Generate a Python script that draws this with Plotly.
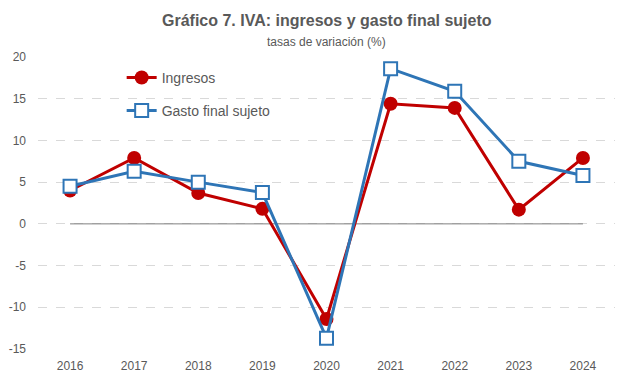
import plotly.graph_objects as go

years = ["2016", "2017", "2018", "2019", "2020", "2021", "2022", "2023", "2024"]
ingresos = [4.0, 7.9, 3.7, 1.8, -11.4, 14.4, 13.9, 1.7, 7.9]
gasto = [4.5, 6.3, 5.0, 3.75, -13.7, 18.6, 15.9, 7.5, 5.8]
y_ticks = [-15, -10, -5, 0, 5, 10, 15, 20]
y_tick_labels = ["-15", "-10", "-5", "0", "5", "10", "15", "20"]

FONT = "Liberation Sans, Arial, sans-serif"
GRAY = "#595959"
RED = "#C00000"
BLUE = "#2E75B6"

fig = go.Figure()
# zero reference line between first and last category (drawn beneath the series)
fig.add_trace(go.Scatter(x=[years[0], years[-1]], y=[0, 0], mode="lines",
                         line=dict(color="#808080", width=1), showlegend=False,
                         hoverinfo="skip"))
fig.add_trace(go.Scatter(x=years, y=ingresos, name="Ingresos", mode="lines+markers",
                         line=dict(color=RED, width=3),
                         marker=dict(symbol="circle", size=14, color=RED),
                         legend="legend"))
fig.add_trace(go.Scatter(x=years, y=gasto, name="Gasto final sujeto", mode="lines+markers",
                         line=dict(color=BLUE, width=3),
                         marker=dict(symbol="square", size=13, color="white",
                                     line=dict(color=BLUE, width=2)),
                         legend="legend2"))

fig.update_layout(
    width=631, height=373,
    margin=dict(l=30, r=24, t=49, b=32, autoexpand=False),
    paper_bgcolor="white", plot_bgcolor="white",
    font=dict(family=FONT, color=GRAY, size=12),
    annotations=[
        dict(text="<b>Gráfico 7. IVA: ingresos y gasto final sujeto</b>",
             xref="paper", yref="paper", x=0.5, y=1.0 + 37 / 292, xanchor="center",
             yanchor="middle", showarrow=False,
             font=dict(family=FONT, size=16, color=GRAY)),
        dict(text="tasas de variación (%)",
             xref="paper", yref="paper", x=0.5, y=1.0 + 15 / 292, xanchor="center",
             yanchor="middle", showarrow=False,
             font=dict(family=FONT, size=12, color=GRAY)),
    ],
    xaxis=dict(type="category", categoryorder="array", categoryarray=years,
               range=[-0.5, len(years) - 0.5], showgrid=False, automargin=False,
               showline=False, ticks="", ticklabelstandoff=8,
               tickfont=dict(size=12, color=GRAY)),
    yaxis=dict(range=[-15, 20], tickvals=y_ticks, ticktext=y_tick_labels,
               showgrid=True, gridcolor="#D9D9D9",
               griddash="dash", gridwidth=1, zeroline=False, showline=False,
               automargin=False, ticks="", ticklabelstandoff=11,
               tickfont=dict(size=12, color=GRAY)),
    legend=dict(x=0.145, y=0.983, xanchor="left", yanchor="top",
                bgcolor="rgba(0,0,0,0)", font=dict(size=14, color=GRAY)),
    legend2=dict(x=0.145, y=0.870, xanchor="left", yanchor="top",
                 bgcolor="rgba(0,0,0,0)", font=dict(size=14, color=GRAY)),
)

fig.write_html("out.html")
